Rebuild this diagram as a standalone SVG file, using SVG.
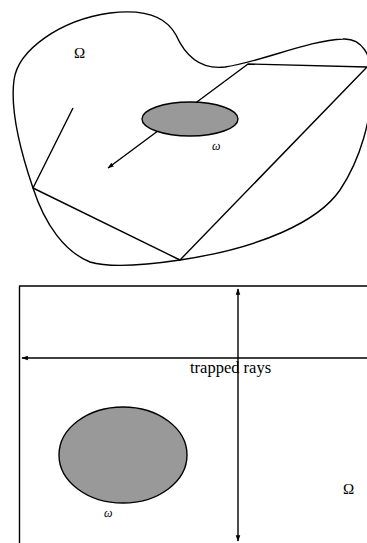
<svg xmlns="http://www.w3.org/2000/svg" width="367" height="543" viewBox="0 0 367 543">
<defs>
<style>
.ln{fill:none;stroke:#000;stroke-width:1.4;stroke-linejoin:round}
.obs{fill:#999;stroke:#000;stroke-width:1.4}
.t{font-family:"Liberation Serif","Times New Roman",serif;fill:#000}
.w{font-family:"Liberation Serif",serif;font-style:italic;font-size:12px;fill:#000}
</style>
<marker id="ah" viewBox="0 0 10 10" refX="9" refY="5" markerWidth="6.5" markerHeight="6.5" orient="auto-start-reverse" markerUnits="userSpaceOnUse">
<path d="M0,1.5 L10,5 L0,8.5 Z" fill="#000"/>
</marker>
</defs>
<rect width="367" height="543" fill="#fff"/>
<g id="domain-top">
<path class="ln" d="M33,188 C20,150 10,110 14,80 C18,50 60,20 110,13 C150,8 168,20 176,35 C185,55 200,70 225,67 C260,62 310,40 343,39 C362,38 372,55 372,80 C372,120 360,160 340,190 C318,222 260,248 180,260 C140,266 110,268 90,262 C65,252 45,225 33,188 Z"/>
<text class="t" x="74" y="58" font-size="15">Ω</text>
</g>
<g id="connectors-top">
<polyline class="ln" points="73,108 33,188 180,260 367,67 248,64 108,168" marker-end="url(#ah)"/>
</g>
<g id="obstacle-top">
<ellipse class="obs" cx="190" cy="119" rx="48" ry="17"/>
<text class="w" x="212" y="150">ω</text>
</g>
<g id="domain-bottom">
<rect class="ln" x="19.5" y="286" width="360" height="270"/>
<text class="t" x="343" y="494" font-size="15">Ω</text>
</g>
<g id="connectors-bottom">
<line class="ln" x1="238" y1="289" x2="238" y2="541" marker-start="url(#ah)" marker-end="url(#ah)"/>
<line class="ln" x1="368" y1="358" x2="22" y2="358" marker-end="url(#ah)"/>
<text class="t" x="190" y="373" font-size="16.5">trapped rays</text>
</g>
<g id="obstacle-bottom">
<ellipse class="obs" cx="123" cy="455" rx="64" ry="48"/>
<text class="w" x="104" y="517">ω</text>
</g>
</svg>
